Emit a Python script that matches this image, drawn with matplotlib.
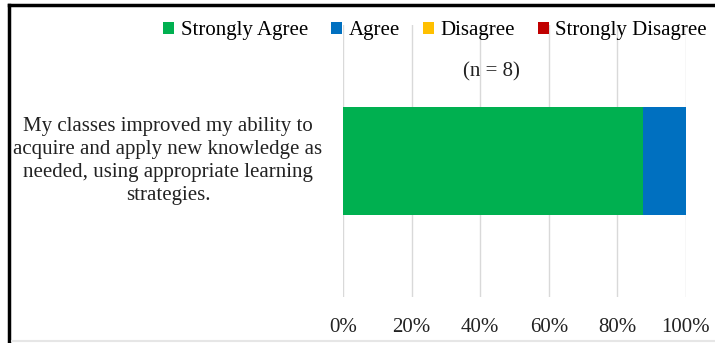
import matplotlib.pyplot as plt
from matplotlib.lines import Line2D

plt.rcParams['font.family'] = ['Liberation Serif', 'DejaVu Serif']

question = "My classes improved my ability to\nacquire and apply new knowledge as\nneeded, using appropriate learning\nstrategies."
categories = ["Strongly Agree", "Agree", "Disagree", "Strongly Disagree"]
values = [87.5, 12.5, 0, 0]
colors = ['#00B050', '#0070C0', '#FFC000', '#C00000']
ticks = [0, 20, 40, 60, 80, 100]
n_label = "(n = 8)"

fig = plt.figure(figsize=(7.15, 3.43), dpi=100)
ax = fig.add_axes([0.4797, 0.134, 0.4797, 0.793])

left = 0
for cat, val, col in zip(categories, values, colors):
    ax.barh(0, val, left=left, height=1.0, color=col, label=cat, zorder=3)
    left += val

ax.set_xlim(0, 100)
ax.set_ylim(-1.25, 1.25)
ax.set_xticks(ticks)
ax.set_xticklabels([f"{t}%" for t in ticks], fontsize=15)
ax.set_yticks([])
ax.tick_params(axis='x', length=0, pad=15, colors='#222222')
ax.grid(axis='x', color='#d9d9d9', linewidth=1, zorder=0)
for s in ax.spines.values():
    s.set_visible(False)

fig.text(168 / 715, 1 - 161 / 343, question, ha='center', va='center',
         multialignment='center', fontsize=15, color='#222222', linespacing=1.3)
fig.text(491 / 715, 1 - 72 / 343, n_label, ha='center', va='center',
         fontsize=15, color='#222222')

fig.legend(loc='center', bbox_to_anchor=(435 / 715, 1 - 31 / 343), ncol=4,
           frameon=False, fontsize=15, handlelength=0.55, handleheight=0.55,
           handletextpad=0.3, columnspacing=1.1, borderaxespad=0, borderpad=0)

# figure border (top, left, bottom)
fig.add_artist(Line2D([9 / 715, 1], [1 - 5 / 343, 1 - 5 / 343], color='black', lw=2.5, transform=fig.transFigure))
fig.add_artist(Line2D([9 / 715, 9 / 715], [2 / 343, 1 - 5 / 343], color='black', lw=2.5, transform=fig.transFigure))
fig.add_artist(Line2D([12 / 715, 1], [2 / 343, 2 / 343], color='#e6e6e6', lw=1.5, transform=fig.transFigure))

fig.savefig('out.png', dpi=100)
